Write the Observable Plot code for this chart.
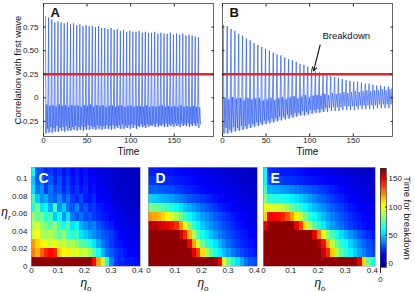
<!DOCTYPE html>
<html><head><meta charset="utf-8">
<script src="https://cdn.jsdelivr.net/npm/d3@7"></script>
<script src="https://cdn.jsdelivr.net/npm/@observablehq/plot@0.6"></script>
<style>
body{margin:0;background:#fff;}
#fig{position:relative;width:415px;height:292px;font-family:"Liberation Sans",Arial,sans-serif;overflow:hidden;}
#fig svg{position:absolute;}
.eta{position:absolute;font-family:"Liberation Sans",Arial,sans-serif;font-style:italic;font-size:12px;color:#111;transform:translate(-50%,-50%);white-space:nowrap;line-height:1;}
.eta sub{font-size:8px;font-style:italic;}
</style></head><body><div id="fig"></div>
<script>
// ---------- Panel A data (per oscillation cycle) ----------
const timeA = [2.3,5.9,9.5,13.0,16.6,20.2,23.8,27.4,31.0,34.5,
  38.1,41.7,45.3,48.8,52.4,56.0,59.6,63.2,66.7,70.3,
  73.9,77.5,81.1,84.6,88.2,91.8,95.4,99.0,102.5,106.1,
  109.7,113.3,116.8,120.4,124.0,127.6,131.2,134.7,138.3,141.9,
  145.5,149.1,152.6,156.2,159.8,163.4,167.0,170.5,174.1,177.7];
const peakA = [0.86,0.85,0.83,0.80,0.81,0.80,0.79,0.80,0.78,0.79,
  0.77,0.78,0.76,0.77,0.76,0.76,0.75,0.76,0.74,0.74,
  0.73,0.74,0.72,0.73,0.71,0.72,0.70,0.71,0.70,0.70,
  0.71,0.69,0.70,0.69,0.69,0.70,0.68,0.69,0.68,0.68,
  0.69,0.67,0.68,0.67,0.68,0.66,0.67,0.66,0.65,0.64];
const troughA = [-0.38,-0.37,-0.37,-0.36,-0.36,-0.35,-0.36,-0.35,-0.35,-0.34,
  -0.35,-0.34,-0.35,-0.34,-0.34,-0.33,-0.34,-0.33,-0.34,-0.33,
  -0.33,-0.34,-0.33,-0.32,-0.33,-0.33,-0.32,-0.33,-0.32,-0.33,
  -0.31,-0.31,-0.32,-0.31,-0.30,-0.31,-0.31,-0.30,-0.31,-0.31,
  -0.30,-0.31,-0.30,-0.31,-0.30,-0.30,-0.31,-0.30,-0.30,-0.32];
const bandHiA = [-0.07,-0.09,-0.08,-0.10,-0.07,-0.09,-0.08,-0.10,-0.08,-0.09,
  -0.08,-0.10,-0.08,-0.09,-0.07,-0.10,-0.08,-0.09,-0.08,-0.10,
  -0.09,-0.08,-0.10,-0.09,-0.08,-0.10,-0.09,-0.08,-0.10,-0.09,
  -0.09,-0.10,-0.08,-0.10,-0.09,-0.10,-0.09,-0.08,-0.10,-0.09,
  -0.10,-0.09,-0.10,-0.08,-0.10,-0.09,-0.10,-0.09,-0.10,-0.10];
const bandLoA = [-0.33,-0.31,-0.32,-0.30,-0.32,-0.31,-0.30,-0.32,-0.31,-0.30,
  -0.31,-0.30,-0.31,-0.29,-0.30,-0.31,-0.29,-0.30,-0.30,-0.29,
  -0.30,-0.29,-0.30,-0.29,-0.28,-0.30,-0.29,-0.28,-0.29,-0.30,
  -0.28,-0.29,-0.28,-0.29,-0.28,-0.27,-0.29,-0.28,-0.27,-0.28,
  -0.28,-0.27,-0.28,-0.27,-0.28,-0.27,-0.28,-0.27,-0.27,-0.28];
const periodA = 3.58;

// ---------- Panel B data ----------
const timeB = [1.0,5.4,9.8,14.2,18.6,23.0,27.4,31.8,36.2,40.6,
  45.0,49.4,53.8,58.2,62.6,67.0,71.4,75.8,80.2,84.6,
  89.0,93.4,97.8,102.2,106.6,111.0,115.4,119.8,124.2,128.6,
  133.0,137.4,141.8,146.2,150.6,155.0,159.4,163.8,168.2,172.6,
  177.0,181.4,185.8,190.2,194.6];
const peakB = [0.77,0.76,0.73,0.71,0.68,0.66,0.63,0.61,0.58,0.56,
  0.54,0.52,0.50,0.48,0.46,0.45,0.43,0.41,0.40,0.38,
  0.36,0.35,0.33,0.31,0.28,0.27,0.25,0.24,0.23,0.22,
  0.21,0.20,0.19,0.18,0.17,0.17,0.16,0.15,0.15,0.14,
  0.13,0.13,0.12,0.12,0.11];
const troughB = [-0.38,-0.38,-0.37,-0.36,-0.35,-0.34,-0.33,-0.32,-0.31,-0.30,
  -0.29,-0.28,-0.27,-0.26,-0.25,-0.24,-0.23,-0.22,-0.21,-0.20,
  -0.19,-0.19,-0.18,-0.17,-0.16,-0.16,-0.15,-0.15,-0.14,-0.14,
  -0.14,-0.13,-0.13,-0.13,-0.13,-0.12,-0.12,-0.12,-0.12,-0.12,
  -0.11,-0.11,-0.11,-0.11,-0.11];
const bandHiB = [0.00,-0.02,0.01,-0.01,0.00,-0.03,0.00,-0.02,-0.01,0.00,
  -0.03,-0.02,0.00,-0.03,-0.01,0.01,-0.02,0.00,0.02,-0.01,
  0.01,0.03,0.00,0.02,0.03,0.02,0.04,0.03,0.05,0.04,
  0.05,0.06,0.05,0.06,0.07,0.06,0.07,0.08,0.07,0.08,
  0.08,0.09,0.08,0.09,0.09];
const bandLoB = [-0.32,-0.34,-0.31,-0.32,-0.30,-0.30,-0.28,-0.28,-0.26,-0.26,
  -0.24,-0.24,-0.22,-0.22,-0.20,-0.20,-0.18,-0.18,-0.16,-0.16,
  -0.14,-0.15,-0.13,-0.13,-0.12,-0.12,-0.11,-0.11,-0.10,-0.10,
  -0.10,-0.09,-0.09,-0.09,-0.09,-0.08,-0.08,-0.08,-0.08,-0.08,
  -0.07,-0.07,-0.07,-0.07,-0.07];
const periodB = 4.4;
const shadedCyclesB = 28;

const threshold = [0.25];
const timeTicks = [0, 50, 100, 150];
const corrTicks = [-0.25, 0, 0.25, 0.5, 0.75];
const breakdownNote = [{x1: 112, y1: 0.56, x2: 104.5, y2: 0.285, lx: 142, ly: 0.655, label: "Breakdown"}];

// ---------- Heatmaps: rows from eta_r = 0 (bottom) to 0.1 (top), 25 eta_o columns ----------
const etaOTicks = [0, 0.1, 0.2, 0.3, 0.4];
const etaRTicks = [0, 0.02, 0.04, 0.06, 0.08, 0.1];
const cbTicks = [0, 50, 100, 150];

const heatC = [
 [165,165,165,165,165,165,165,165,165,165,165,165,165,165,145,118,92,65,38,24,22,20,20,18,18],
 [125,115,130,140,145,140,110,100,105,95,100,90,95,85,75,60,45,35,30,25,22,18,15,15,14],
 [120,110,105,100,95,100,90,95,85,90,80,75,70,65,55,45,35,30,25,20,18,15,12,12,12],
 [95,100,90,85,90,80,75,85,70,65,70,55,50,45,40,35,30,28,25,20,15,12,12,10,10],
 [90,95,85,80,75,85,70,60,75,55,60,45,40,35,38,30,25,22,20,15,12,10,10,8,8],
 [85,75,80,65,70,50,60,40,55,35,30,35,28,30,25,22,20,18,15,12,10,8,8,6,6],
 [65,80,55,60,45,70,40,50,35,30,40,25,30,22,25,20,18,15,12,10,8,6,6,5,5],
 [70,50,40,45,35,30,40,28,35,25,22,28,20,18,22,15,12,14,10,8,6,5,5,4,4],
 [55,35,40,25,35,28,30,22,28,20,25,18,22,15,18,12,14,8,10,6,5,5,4,4,3],
 [50,30,35,25,30,22,28,20,25,18,22,15,20,14,16,12,10,8,8,6,5,4,4,3,3],
 [60,30,28,22,25,20,24,18,22,16,20,15,18,12,14,10,10,8,6,5,4,4,3,3,3]
];
const heatD = [
 [165,165,165,165,165,165,165,165,165,165,165,165,165,165,165,163,150,105,75,64,55,45,35,30,28],
 [165,165,165,165,165,165,165,165,165,165,150,135,108,88,72,64,56,48,42,36,31,27,24,21,19],
 [165,165,165,165,165,165,165,165,165,148,118,96,78,66,60,54,46,40,34,29,25,22,20,18,16],
 [165,165,165,165,165,165,165,155,140,115,90,72,62,55,48,42,37,33,29,26,23,20,18,16,14],
 [158,158,155,152,150,145,138,120,100,82,68,58,50,45,40,36,32,28,25,22,19,17,15,13,12],
 [120,118,115,110,104,96,88,78,68,60,54,48,43,39,35,31,28,25,22,19,17,15,13,11,10],
 [80,78,75,72,68,64,59,54,49,45,41,37,33,30,27,24,21,19,17,15,13,12,10,9,8],
 [52,50,48,46,44,42,39,36,33,30,28,26,24,22,20,18,16,15,14,12,11,10,9,8,7],
 [32,32,31,30,29,28,26,24,22,21,20,18,17,16,15,14,13,12,11,10,9,8,7,6,6],
 [24,24,23,22,22,21,20,19,18,17,16,15,14,13,12,11,10,9,8,8,7,6,6,5,5],
 [20,20,19,19,18,18,17,16,15,14,13,12,11,10,10,9,8,8,7,6,6,5,5,4,4]
];
const heatE = [
 [165,165,165,165,165,165,165,165,165,165,165,165,165,165,165,165,165,165,165,165,165,150,110,75,62],
 [165,165,165,165,165,165,165,165,165,165,165,165,165,155,140,110,88,74,66,58,50,43,37,31,27],
 [165,165,165,165,165,165,165,165,165,165,165,165,160,145,115,90,75,66,60,52,45,38,33,28,24],
 [165,165,165,165,165,165,165,165,165,165,165,150,125,100,84,70,62,54,47,41,35,30,26,22,19],
 [150,165,165,165,165,165,165,150,135,108,90,74,64,56,48,42,37,33,29,25,22,20,18,16,15],
 [110,148,146,144,140,132,120,105,90,78,68,60,53,47,42,37,33,29,26,23,20,18,16,14,13],
 [100,98,96,94,92,86,78,70,64,58,52,47,43,39,35,31,28,25,22,19,17,15,13,12,11],
 [80,66,65,64,62,60,57,54,50,46,42,38,34,31,28,25,22,20,18,16,14,12,11,10,9],
 [70,46,45,44,42,40,38,36,34,32,30,28,26,24,22,20,18,16,14,12,11,10,9,8,7],
 [60,28,27,26,25,24,23,22,21,20,19,18,17,16,15,14,13,12,11,10,9,8,7,6,6],
 [58,22,22,21,20,20,19,18,17,16,15,14,13,12,11,10,9,8,7,6,5,5,4,4,3]
];

// ---------- helpers ----------
const FONT = '"Liberation Sans", Arial, sans-serif';
const fig = document.getElementById("fig");
function place(node, left, top) { node.style.left = left + "px"; node.style.top = top + "px"; fig.appendChild(node); }

function buildSeries(times, peaks, troughs, his, los, period) {
  const pts = [];
  times.forEach((t, i) => {
    pts.push({t, v: peaks[i]});
    pts.push({t: t + 0.14 * period, v: troughs[i]});
    pts.push({t: t + 0.42 * period, v: his[i]});
    pts.push({t: t + 0.70 * period, v: los[i]});
  });
  return pts;
}
const fmtCorr = d => d === 0 ? "0" : d.toFixed(2);
const blank = () => "";

function corrPanel({times, peaks, troughs, his, los, period, shaded, letter, yLabels, width, mL, mR, extra}) {
  const series = buildSeries(times, peaks, troughs, his, los, period);
  const band = times.slice(0, shaded).map((t, i) => ({t, lo: troughs[i], hi: his[i]}));
  const marks = [
    Plot.areaY(band, {x: "t", y1: "lo", y2: "hi", fill: "#8aa6f5", fillOpacity: 0.45}),
    Plot.line(series, {x: "t", y: "v", stroke: "#2f5df2", strokeWidth: 0.7, clip: true}),
    Plot.ruleY(threshold, {stroke: "#ec2227", strokeWidth: 2.6}),
    Plot.frame({stroke: "#444", strokeWidth: 0.8}),
    Plot.axisX(timeTicks, {anchor: "bottom", tickSize: 0, tickPadding: 1, fontSize: 8, label: null}),
    Plot.axisX(timeTicks, {anchor: "bottom", tickSize: -2.5, tickFormat: blank, label: null}),
    Plot.axisX(timeTicks, {anchor: "top", tickSize: -2.5, tickFormat: blank, label: null}),
    Plot.axisY(corrTicks, {anchor: "left", tickSize: 0, tickPadding: 5, fontSize: 8, tickFormat: yLabels ? fmtCorr : blank, label: null}),
    Plot.axisY(corrTicks, {anchor: "left", tickSize: -2.5, tickFormat: blank, label: null}),
    Plot.axisY(corrTicks, {anchor: "right", tickSize: -2.5, tickFormat: blank, label: null}),
    Plot.text(["Time"], {frameAnchor: "bottom", dy: 18.5, fontSize: 10, fill: "#111", textAnchor: "middle"}),
    Plot.text([letter], {frameAnchor: "top-left", dx: 7, dy: 4, textAnchor: "start", lineAnchor: "top", fontSize: 13, fontWeight: "bold", fill: "#111"}),
    ...extra
  ];
  return Plot.plot({
    width, height: 160, marginLeft: mL, marginRight: mR, marginTop: 3, marginBottom: 24,
    x: {domain: [0, 195], label: null}, y: {domain: [-0.41, 1.0], label: null},
    style: {background: "transparent", fontFamily: FONT, fontSize: "8px", color: "#222", overflow: "visible"},
    marks
  });
}

const svgA = corrPanel({times: timeA, peaks: peakA, troughs: troughA, his: bandHiA, los: bandLoA, period: periodA,
  shaded: timeA.length, letter: "A", yLabels: true, width: 215, mL: 43, mR: 2,
  extra: [Plot.text(["Correlation with first wave"], {frameAnchor: "left", rotate: -90, dx: -26, textAnchor: "middle", fontSize: 9.5, fill: "#111"})]});
place(svgA, 0, 0);

const svgB = corrPanel({times: timeB, peaks: peakB, troughs: troughB, his: bandHiB, los: bandLoB, period: periodB,
  shaded: shadedCyclesB, letter: "B", yLabels: false, width: 195, mL: 17, mR: 8,
  extra: [
    Plot.arrow(breakdownNote, {x1: "x1", y1: "y1", x2: "x2", y2: "y2", stroke: "#111", strokeWidth: 1.1, headLength: 6}),
    Plot.text(breakdownNote, {x: "lx", y: "ly", text: "label", fontSize: 9.5, fill: "#111"})
  ]});
place(svgB, 205, 0);

// jet colormap
const jet = d3.scaleLinear().domain([0, 0.125, 0.375, 0.625, 0.875, 1])
  .range(["#00008f", "#0000ff", "#00ffff", "#ffff00", "#ff0000", "#800000"]).clamp(true);
const cDomain = [-6.5, 168];
const colorOpts = {type: "linear", domain: cDomain, interpolate: t => jet(t)};
const xMax = 0.4113, yMax = 0.1125;
const nCols = 25, nRows = 11;
const colW = xMax / nCols, rowH = yMax / nRows;

function cells(grid) {
  const out = [];
  grid.forEach((row, r) => row.forEach((v, c) => out.push({c, r, v})));
  return out;
}

function heatPanel(grid, letter, {width, mL, mR, yLabels}) {
  const marks = [
    Plot.rect(cells(grid), {x1: d => d.c * colW, x2: d => (d.c + 1) * colW, y1: d => d.r * rowH, y2: d => (d.r + 1) * rowH, fill: "v", shapeRendering: "crispEdges"}),
    Plot.frame({stroke: "#999", strokeWidth: 0.6}),
    Plot.axisX(etaOTicks, {anchor: "bottom", tickSize: 0, tickPadding: 1, fontSize: 8, tickFormat: d => String(d), label: null}),
    Plot.text([letter], {frameAnchor: "top-left", dx: 7, dy: 6, textAnchor: "start", lineAnchor: "top", fontSize: 14, fontWeight: "bold", fill: "white"})
  ];
  if (yLabels) marks.push(Plot.axisY(etaRTicks, {anchor: "left", tickSize: 0, tickPadding: 4, fontSize: 8, tickFormat: d => String(d), label: null}));
  else marks.push(Plot.axisY(etaRTicks, {anchor: "left", tickSize: 0, tickFormat: blank, label: null}));
  return Plot.plot({
    width, height: 132, marginLeft: mL, marginRight: mR, marginTop: 7, marginBottom: 26,
    x: {domain: [0, xMax], label: null}, y: {domain: [0, yMax], label: null}, color: colorOpts,
    style: {background: "transparent", fontFamily: FONT, fontSize: "8px", color: "#222", overflow: "visible"},
    marks
  });
}

place(heatPanel(heatC, "C", {width: 142, mL: 31, mR: 2, yLabels: true}), 0, 160);
place(heatPanel(heatD, "D", {width: 118, mL: 6, mR: 3, yLabels: false}), 142, 160);
place(heatPanel(heatE, "E", {width: 117, mL: 3, mR: 2, yLabels: false}), 260, 160);

// colorbar
const nLevels = 64;
const levels = d3.range(nLevels).map(i => ({
  y1: cDomain[0] + i * (cDomain[1] - cDomain[0]) / nLevels,
  y2: cDomain[0] + (i + 1) * (cDomain[1] - cDomain[0]) / nLevels
}));
const svgCB = Plot.plot({
  width: 38, height: 132, marginLeft: 3, marginRight: 29, marginTop: 8, marginBottom: 25,
  x: {domain: [0, 1], label: null}, y: {domain: cDomain, label: null}, color: colorOpts,
  style: {background: "transparent", fontFamily: FONT, fontSize: "8px", color: "#222", overflow: "visible"},
  marks: [
    Plot.rect(levels, {x1: 0, x2: 1, y1: "y1", y2: "y2", fill: d => (d.y1 + d.y2) / 2, shapeRendering: "crispEdges"}),
    Plot.frame({stroke: "#333", strokeWidth: 0.7}),
    Plot.axisY(cbTicks, {anchor: "right", tickSize: 0, tickPadding: 2, fontSize: 8, tickFormat: d => String(d), label: null}),
    Plot.axisY(cbTicks, {anchor: "right", tickSize: -2, tickFormat: blank, label: null}),
    Plot.text(["Time for breakdown"], {frameAnchor: "right", rotate: 90, dx: 21, textAnchor: "middle", fontSize: 9.5, fill: "#111"})
  ]
});
place(svgCB, 377, 160);

// eta axis labels (italic greek with subscripts)
function eta(sub, cx, cy) {
  const d = document.createElement("div");
  d.className = "eta";
  d.innerHTML = "η<sub>" + sub + "</sub>";
  d.style.left = cx + "px"; d.style.top = cy + "px";
  fig.appendChild(d);
}
eta("r", 6, 214);
eta("o", 86, 285);
eta("o", 203, 285);
eta("o", 320, 285);
</script></body></html>
